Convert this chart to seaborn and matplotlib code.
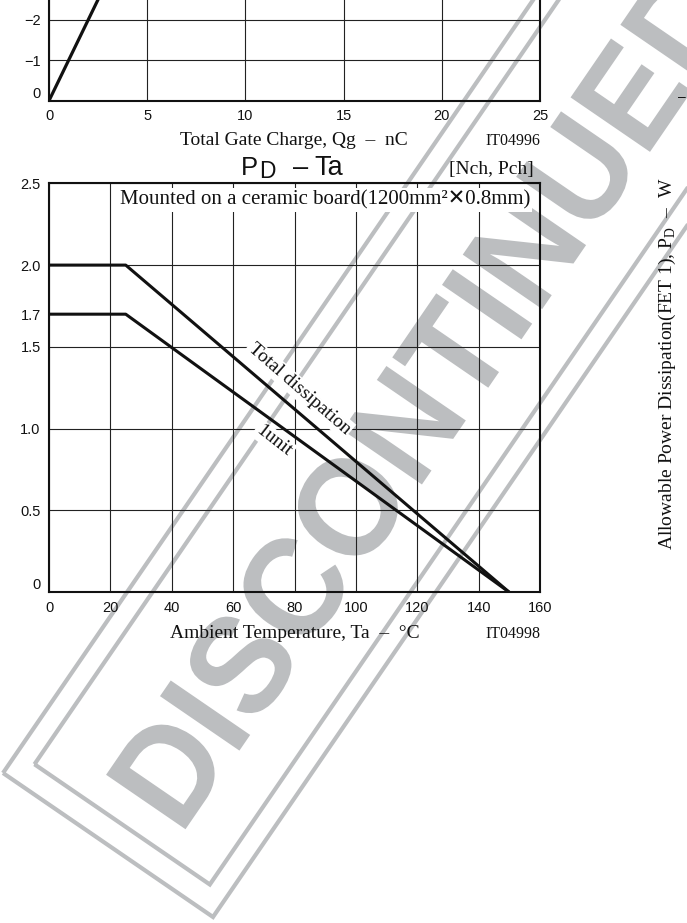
import matplotlib
matplotlib.use('Agg')
import matplotlib.pyplot as plt
import seaborn as sns
import numpy as np
from matplotlib.patches import Polygon, PathPatch
from matplotlib.textpath import TextPath
from matplotlib.font_manager import FontProperties
from matplotlib import transforms

# Gate charge panel (only its lower part is inside the page)
qg_nc = [0, 1, 2, 3]
vgs_v = [0, -1, -2, -3]
qg_ticks = [0, 5, 10, 15, 20, 25]
vgs_ticks = [0, -1, -2, -3, -4, -5, -6, -7, -8, -9, -10]

# PD - Ta derating curves
ta_c = [0, 25, 150]
pd_total_w = [2.0, 2.0, 0.0]
pd_1unit_w = [1.7, 1.7, 0.0]
ta_ticks = [0, 20, 40, 60, 80, 100, 120, 140, 160]
pd_ticks = [0, 0.5, 1.0, 1.5, 1.7, 2.0, 2.5]
pd_tick_labels = ['0', '0.5', '1.0', '1.5', '1.7', '2.0', '2.5']

W, H = 687, 923
SERIF = ['Liberation Serif', 'DejaVu Sans']
SANS = ['Liberation Sans', 'DejaVu Sans']
INK = '#111111'
GRAY = '#bcbec0'


def fx(x):
    return x / W


def fy(y):
    return 1 - y / H


def box(l, t, r, b):
    return [fx(l), fy(b), (r - l) / W, (b - t) / H]


sns.set_theme(style='white')
plt.rcParams['font.family'] = SANS
plt.rcParams['mathtext.fontset'] = 'custom'
plt.rcParams['mathtext.rm'] = 'Liberation Serif'

fig = plt.figure(figsize=(W / 100, H / 100), dpi=100)
fig.patch.set_facecolor('white')

# ---- DISCONTINUED watermark (behind the charts) ----
wm = fig.add_axes([0, 0, 1, 1], zorder=0)
wm.set_xlim(0, W)
wm.set_ylim(H, 0)
wm.axis('off')

ang = np.deg2rad(-55.56)
u = np.array([0.8248, 0.5656])    # across the band
v = np.array([0.5656, -0.8248])   # along the band
A = np.array([3.0, 773.0])
B = np.array([213.0, 917.0])
L = 1500
wm.add_patch(Polygon([A, B, B + L * v, A + L * v], closed=True, fill=False,
                     edgecolor=GRAY, lw=3))
Ai = A + 21 * u + 25 * v
Bi = B - 21 * u + 25 * v
wm.add_patch(Polygon([Ai, Bi, Bi + L * v, Ai + L * v], closed=True, fill=False,
                     edgecolor=GRAY, lw=3))

tp = TextPath((0, 0), 'DISCONTINUED', size=1,
              prop=FontProperties(family='Liberation Sans', weight='bold'))
P0 = (A + B) / 2
org = P0 + 48 * v + 55 * u
tr = (transforms.Affine2D().scale(132, -140).rotate(ang)
      .translate(org[0], org[1]))
wm.add_patch(PathPatch(tr.transform_path(tp), facecolor=GRAY, lw=0))

# ---- gate charge panel ----
ax0 = fig.add_axes(box(49, 100.7 - 405, 540, 100.7), zorder=1)
ax0.set_facecolor('none')
sns.lineplot(x=qg_nc, y=vgs_v, ax=ax0, color=INK, lw=2.3)
ax0.set_xlim(0, 25)
ax0.set_ylim(0, -10)
ax0.set_xticks(qg_ticks)
ax0.set_yticks(vgs_ticks)
# labels above the page edge are left empty
ax0.set_yticklabels(['0', '\u22121', '\u22122'] + [''] * (len(vgs_ticks) - 3))

# ---- PD - Ta panel ----
ax = fig.add_axes(box(49, 183.3, 540, 592.3), zorder=1)
ax.set_facecolor('none')
sns.lineplot(x=ta_c, y=pd_total_w, ax=ax, color=INK, lw=2.2)
sns.lineplot(x=ta_c, y=pd_1unit_w, ax=ax, color=INK, lw=2.2)
ax.set_xlim(0, 160)
ax.set_ylim(0, 2.5)
ax.set_xticks(ta_ticks)
ax.set_yticks(pd_ticks)
ax.set_yticklabels(pd_tick_labels)

for a in (ax0, ax):
    a.grid(True, color='#222222', lw=0.8)
    a.set_xlabel('')
    a.set_ylabel('')
    a.tick_params(length=0, labelsize=10.5, colors=INK, pad=6)
    for s in a.spines.values():
        s.set_color(INK)
        s.set_linewidth(1.5)
        s.set_visible(True)
    a.get_yticklabels()[0].set_va('bottom')   # "0" sits a little above the axis
ax.get_ygridlines()[4].set_visible(False)   # no grid line at 1.7

ax.text(90.0, 2.398, 'Mounted on a ceramic board(1200mm\u00b2\u2715' + '0.8mm)',
        family=SERIF, fontsize=15, ha='center', va='center', color=INK,
        bbox=dict(boxstyle='square,pad=0.1', fc='white', ec='none'), zorder=3)
ax.text(81.5, 1.243, 'Total dissipation', family=SERIF, fontsize=14,
        rotation=-41, rotation_mode='anchor', ha='center', va='center', color=INK,
        bbox=dict(boxstyle='square,pad=0.1', fc='white', ec='none'), zorder=3)
ax.text(73.3, 0.925, '1unit', family=SERIF, fontsize=14,
        rotation=-38, rotation_mode='anchor', ha='center', va='center', color=INK,
        bbox=dict(boxstyle='square,pad=0.1', fc='white', ec='none'), zorder=3)

# ---- labels around the panels ----
fig.text(fx(294), fy(145), 'Total Gate Charge, Qg  \u2013  nC', family=SERIF,
         fontsize=14, ha='center', va='baseline', color=INK)
fig.text(fx(540), fy(145), 'IT04996', family=SERIF, fontsize=11.5,
         ha='right', va='baseline', color=INK)

fig.text(fx(241), fy(175), 'P', fontsize=18.5, ha='left', va='baseline', color=INK)
fig.text(fx(259), fy(178), 'D', fontsize=16.5, ha='left', va='baseline', color=INK)
fig.text(fx(293), fy(175), '\u2013', fontsize=19.5, ha='left', va='baseline', color=INK)
fig.text(fx(314), fy(175), 'Ta', fontsize=19.5, ha='left', va='baseline', color=INK)
fig.text(fx(534), fy(174), '[Nch, Pch]', family=SERIF, fontsize=14,
         ha='right', va='baseline', color=INK)

fig.text(fx(295), fy(638), 'Ambient Temperature, Ta  \u2013  \u00b0C', family=SERIF,
         fontsize=14, ha='center', va='baseline', color=INK)
fig.text(fx(540), fy(638), 'IT04998', family=SERIF, fontsize=11.5,
         ha='right', va='baseline', color=INK)

fig.text(fx(667), fy(364),
         'Allowable Power Dissipation(FET 1), P$_\\mathregular{D}$  \u2013  W',
         family=SERIF, fontsize=14, rotation=90, ha='center', va='center', color=INK)
fig.text(fx(686), fy(97), '\u2013', fontsize=10, ha='right', va='center', color=INK)

fig.savefig('out.png', dpi=100)
